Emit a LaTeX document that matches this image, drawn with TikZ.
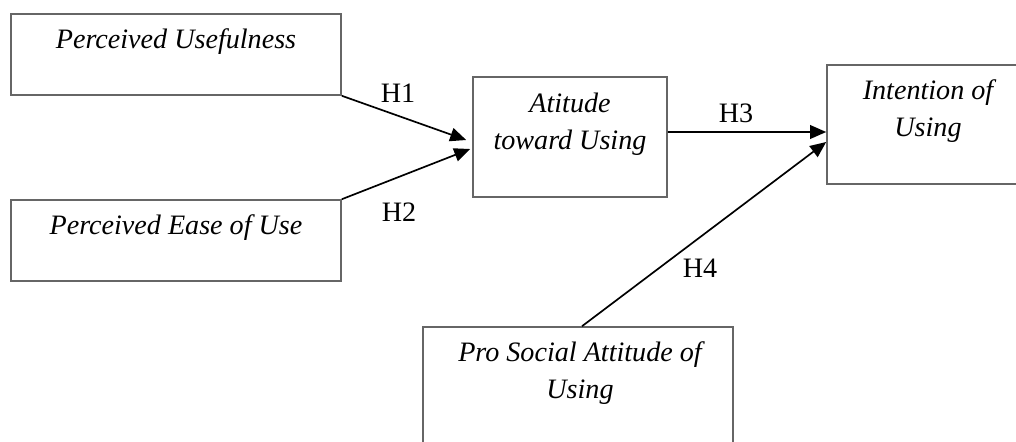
\documentclass[tikz,border=0pt]{standalone}
\usepackage{fontspec}
\setmainfont{Liberation Serif}
\usetikzlibrary{arrows.meta,calc,positioning}
\tikzstyle{box} = [rectangle, draw=black!60, line width=1.1pt, inner sep=0pt]
\tikzstyle{txt} = [align=center, inner sep=0pt, font=\fontsize{20}{26.2}\selectfont\itshape]
\tikzstyle{hyp} = [inner sep=0pt, font=\fontsize{20}{24}\selectfont]
\tikzstyle{arrow} = [line width=1.2pt,-{Triangle[length=0.4cm,width=0.34cm]}]

\begin{document}
\begin{tikzpicture}[x=0.025cm,y=-0.025cm]
\useasboundingbox (0,0) rectangle (1016,441);
% boxes
\draw (176,54.5) node (pu) [box, minimum width=8.25cm, minimum height=2.025cm] {};
\draw (176,240.5) node (peu) [box, minimum width=8.25cm, minimum height=2.025cm] {};
\draw (570,137) node (at) [box, minimum width=4.85cm, minimum height=3cm] {};
\draw (931.5,124.5) node (in) [box, minimum width=5.225cm, minimum height=2.975cm] {};
\draw (578,393.5) node (ps) [box, minimum width=7.75cm, minimum height=3.325cm] {};
% texts
\draw (176,42) node (pu-t) [txt] {Perceived Usefulness};
\draw (176,228) node (peu-t) [txt] {Perceived Ease of Use};
\draw (570,124.5) node (at-t) [txt] {Atitude\\toward Using};
\draw (928,111.5) node (in-t) [txt] {Intention of\\Using};
\draw (580,373.5) node (ps-t) [txt] {Pro Social Attitude of\\Using};
% arrows
\draw[arrow] (pu.south east)--($(at.west)+(-6,3)$);
\draw[arrow] (peu.north east)--($(at.west)+(-2,12)$);
\draw[arrow] ($(at.east)+(0,-5)$)--($(in.west)+(0,7.5)$);
\draw[arrow] ($(ps.north)+(4,0)$)--($(in.west)+(0,17.5)$);
% labels
\draw (398,93) node (h1) [hyp] {H1};
\draw (399,212) node (h2) [hyp] {H2};
\draw (736,113) node (h3) [hyp] {H3};
\draw (700,268) node (h4) [hyp] {H4};
\end{tikzpicture}
\end{document}
